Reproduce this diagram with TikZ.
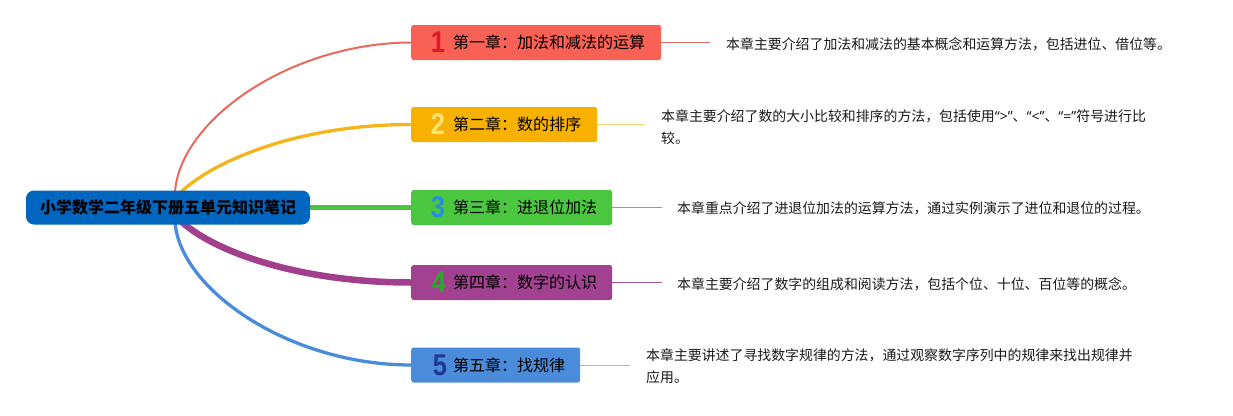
\documentclass[tikz,border=0pt]{standalone}
\usepackage{fontspec}
\setmainfont{Noto Sans CJK SC}
\newfontfamily\numfont{Liberation Sans}
\newfontfamily\latinfont{Noto Sans}
\definecolor{rootblue}{HTML}{0066BF}
\definecolor{cA}{HTML}{FA6155}
\definecolor{cB}{HTML}{F9B100}
\definecolor{cC}{HTML}{4BC63F}
\definecolor{cD}{HTML}{A2418F}
\definecolor{cE}{HTML}{4A8BDA}
\definecolor{lA}{HTML}{E96A5C}
\definecolor{lB}{HTML}{F6B41C}
\definecolor{lC}{HTML}{4CC441}
\definecolor{lD}{HTML}{A23F8C}
\definecolor{lE}{HTML}{4A8BDA}
\definecolor{sA}{HTML}{E46A5E}
\definecolor{sB}{HTML}{FCD57A}
\definecolor{sC}{HTML}{5CC450}
\definecolor{sD}{HTML}{A8569A}
\definecolor{sE}{HTML}{9CBCE8}
\definecolor{nA}{HTML}{DC1A2A}
\definecolor{nB}{HTML}{FBE27A}
\definecolor{nC}{HTML}{2A90DE}
\definecolor{nD}{HTML}{2EA52E}
\definecolor{nE}{HTML}{1E3896}
\definecolor{desc}{HTML}{1A1A1A}
\tikzset{
  rootbox/.style={draw=none, fill=rootblue, rounded corners=8pt, minimum width=284pt, minimum height=34pt, inner sep=0pt, font=\fontsize{16}{18}\selectfont\bfseries, text=black},
  chapbox/.style={draw=none, rounded corners=2.5pt, minimum height=35pt, inner sep=0pt, anchor=west},
  chaptext/.style={anchor=west, inner sep=0pt, font=\fontsize{16}{18}\selectfont, text=black},
  chapnum/.style={inner sep=0pt, font=\numfont\fontsize{30}{30}\selectfont\bfseries, xscale=0.85},
  desctext/.style={anchor=west, inner sep=0pt, align=left, text=desc, font=\fontsize{13.9}{22}\selectfont},
  link/.style={line width=1pt},
}
\begin{document}
\begin{tikzpicture}[x=1pt,y=-1pt]
\useasboundingbox (0,0) rectangle (1233,415);
% chapter boxes
\node[chapbox, fill=cA, minimum width=250pt] (c1) at (411,42.5) {};
\node[chapbox, fill=cB, minimum width=186pt] (c2) at (411,124.5) {};
\node[chapbox, fill=cC, minimum width=201pt] (c3) at (411,207.5) {};
\node[chapbox, fill=cD, minimum width=201pt] (c4) at (411,282.5) {};
\node[chapbox, fill=cE, minimum width=169pt] (c5) at (411,365) {};
% branch start points
\coordinate (r1) at (175,192);
\coordinate (r2) at (181,192);
\coordinate (r4) at (182,222);
\coordinate (r5) at (175,222);
% branches
\draw[lA, line width=2pt] (r1) .. controls (180,120) and (290,43) .. (c1.west);
\draw[lB, line width=3.3pt] (r2) .. controls (215,160) and (300,124.5) .. (c2.west);
\draw[lD, line width=6.5pt] (r4) .. controls (215,252) and (300,282.5) .. (c4.west);
\draw[lE, line width=3.3pt] (r5) .. controls (180,290) and (290,365) .. (c5.west);
% root
\node[rootbox] (root) at (168,207.5) {小学数学二年级下册五单元知识笔记};
\draw[lC, line width=5.5pt] (root.east) -- (c3.west);
% numbers
\node[chapnum, text=nA] (n1) at (438,42.5) {1};
\node[chapnum, text=nB] (n2) at (438,124.5) {2};
\node[chapnum, text=nC] (n3) at (438,207.5) {3};
\node[chapnum, text=nD] (n4) at (439,282.5) {4};
\node[chapnum, text=nE] (n5) at (440,365) {5};
% chapter titles
\node[chaptext] (t1) at (453,42.5) {第一章：加法和减法的运算};
\node[chaptext] (t2) at (453,124.5) {第二章：数的排序};
\node[chaptext] (t3) at (453,207.5) {第三章：进退位加法};
\node[chaptext] (t4) at (453,282.5) {第四章：数字的认识};
\node[chaptext] (t5) at (453,365) {第五章：找规律};
% descriptions
\node[desctext] (d1) at (726,44.5) {本章主要介绍了加法和减法的基本概念和运算方法，包括进位、借位等。};
\node[desctext] (d2) at (661,127) {本章主要介绍了数的大小比较和排序的方法，包括使用{\latinfont “>”}、{\latinfont “<”}、{\latinfont “=”}符号进行比\\较。};
\node[desctext] (d3) at (677,208.5) {本章重点介绍了进退位加法的运算方法，通过实例演示了进位和退位的过程。};
\node[desctext] (d4) at (677,284.5) {本章主要介绍了数字的组成和阅读方法，包括个位、十位、百位等的概念。};
\node[desctext] (d5) at (646,366) {本章主要讲述了寻找数字规律的方法，通过观察数字序列中的规律来找出规律并\\应用。};
% small links
\coordinate (e1) at (710,42.5);
\coordinate (e2) at (645,124.5);
\coordinate (e3) at (662,207.5);
\coordinate (e4) at (662,282.5);
\coordinate (e5) at (630,365);
\draw[link, sA] (c1.east) -- (e1);
\draw[link, sB] (c2.east) -- (e2);
\draw[link, sC] (c3.east) -- (e3);
\draw[link, sD] (c4.east) -- (e4);
\draw[link, sE] (c5.east) -- (e5);
\end{tikzpicture}
\end{document}
